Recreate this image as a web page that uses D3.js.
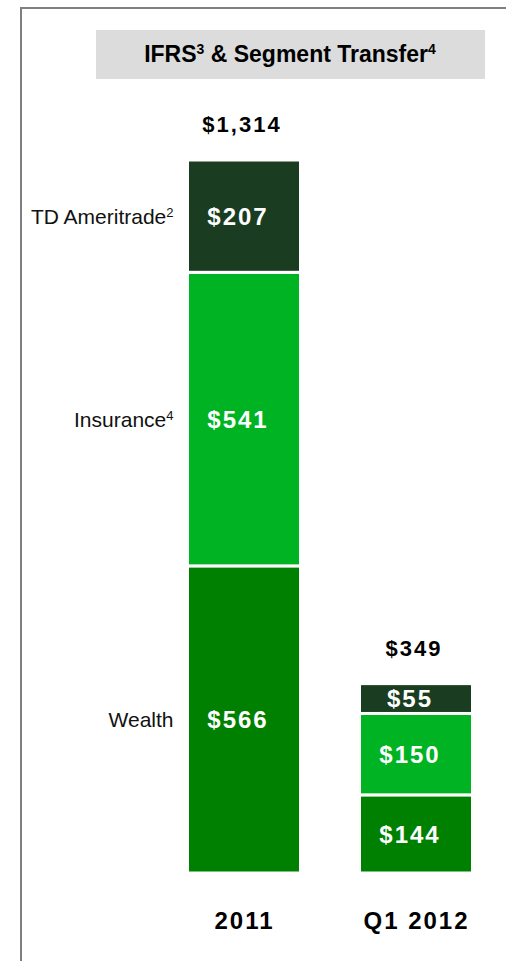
<!DOCTYPE html>
<html>
<head>
<meta charset="utf-8">
<script src="https://cdn.jsdelivr.net/npm/d3@7"></script>
<style>
  body { margin: 0; background: #fff; }
  svg { display: block; font-family: "Liberation Sans", Arial, sans-serif; }
</style>
</head>
<body>
<div class="container"></div>
<script>
const periods = ["2011", "Q1 2012"];
const segments = ["Wealth", "Insurance", "TD Ameritrade"];
const segmentNotes = ["", "4", "2"];
const wealth = [566, 144];
const insurance = [541, 150];
const ameritrade = [207, 55];
const totals = [1314, 349];
const colors = ["#008000", "#00b323", "#1a3d22"];

const width = 506, height = 961;
const svg = d3.select(".container")
              .append("svg")
              .attr("width", width)
              .attr("height", height);

// frame lines (left + top)
svg.append("path")
   .attr("d", "M21,961V8H506")
   .attr("fill", "none")
   .attr("stroke", "#7f7f7f")
   .attr("stroke-width", 2);

// header box
svg.append("rect")
   .attr("x", 96).attr("y", 30)
   .attr("width", 389).attr("height", 49)
   .attr("fill", "#dcdcdc");
const title = svg.append("text")
   .attr("x", 290).attr("y", 62)
   .attr("text-anchor", "middle")
   .style("font-weight", "700")
   .style("font-size", "23px");
title.append("tspan").text("IFRS");
title.append("tspan").attr("dy", -8).style("font-size", "14px").text("3");
title.append("tspan").attr("dy", 8).text(" & Segment Transfer");
title.append("tspan").attr("dy", -8).style("font-size", "14px").text("4");

const xScale = d3.scalePoint()
                 .domain(periods)
                 .range([244, 416]);
const barW = 113;
const yScale = d3.scaleLinear()
                 .domain([0, 1314])
                 .range([873, 160]);

const rows = periods.map((p, i) => ({period: p, Wealth: wealth[i], Insurance: insurance[i], "TD Ameritrade": ameritrade[i]}));
const stack = d3.stack().keys(segments)(rows);

const layers = svg.selectAll("g.layer")
                  .data(stack)
                  .join("g")
                  .attr("class", "layer")
                  .attr("fill", (d, i) => colors[i]);

layers.selectAll("rect")
      .data(d => d)
      .join("rect")
      .attr("x", d => xScale(d.data.period) - barW / 2)
      .attr("y", d => yScale(d[1]))
      .attr("width", barW)
      .attr("height", d => yScale(d[0]) - yScale(d[1]))
      .attr("stroke", "#fff")
      .attr("stroke-width", 3);

// value labels inside segments
layers.selectAll("text")
      .data(d => d)
      .join("text")
      .attr("x", d => xScale(d.data.period) - 6)
      .attr("y", d => (yScale(d[0]) + yScale(d[1])) / 2)
      .attr("dy", "0.36em")
      .attr("text-anchor", "middle")
      .attr("fill", "#fff")
      .style("font-weight", "700")
      .style("font-size", "24px")
      .style("letter-spacing", "2px")
      .text(d => "$" + (d[1] - d[0]));

// segment names at left of 2011 bar
const first = stack.map(s => s[0]);
const names = svg.selectAll("text.seg")
   .data(first)
   .join("text")
   .attr("class", "seg")
   .attr("x", xScale(periods[0]) - barW / 2 - 14)
   .attr("y", d => (yScale(d[0]) + yScale(d[1])) / 2)
   .attr("dy", "0.36em")
   .attr("text-anchor", "end")
   .style("font-size", "21px")
   .attr("fill", "#111");
names.append("tspan").text((d, i) => segments[i]);
names.append("tspan")
     .attr("dy", -7)
     .style("font-size", "13px")
     .text((d, i) => segmentNotes[i]);

// totals above bars
svg.selectAll("text.total")
   .data(totals)
   .join("text")
   .attr("class", "total")
   .attr("x", (d, i) => xScale(periods[i]) - 2)
   .attr("y", d => yScale(d) - 28)
   .attr("text-anchor", "middle")
   .style("font-weight", "700")
   .style("font-size", "22px")
   .style("letter-spacing", "2px")
   .text(d => "$" + d3.format(",")(d));

// period labels
const xAxis = d3.axisBottom(xScale).tickSize(0).tickPadding(0);
svg.append("g")
   .attr("transform", "translate(0,910)")
   .call(xAxis)
   .call(g => g.select(".domain").remove())
   .call(g => g.selectAll("text")
               .attr("fill", "#000")
               .attr("dy", "0.8em")
               .style("font-family", "'Liberation Sans', Arial, sans-serif")
               .style("font-weight", "700")
               .style("font-size", "24px")
               .style("letter-spacing", "2px"));
</script>
</body>
</html>
